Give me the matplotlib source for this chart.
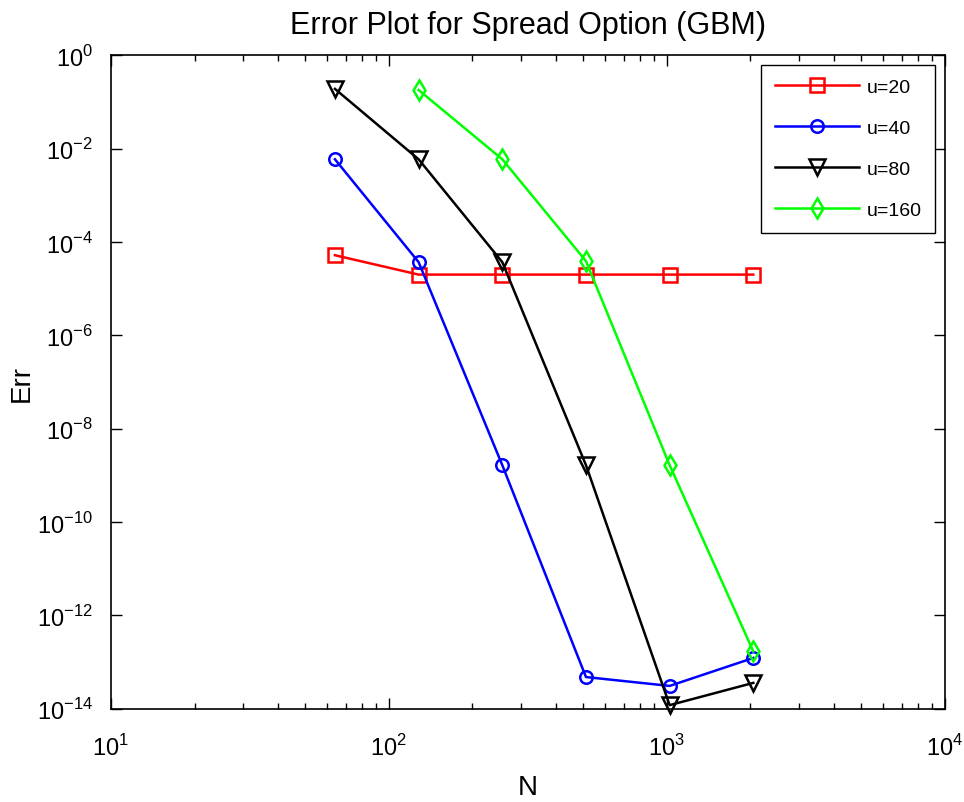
import numpy as np
import matplotlib
matplotlib.use("Agg")
import matplotlib.pyplot as plt
from matplotlib.ticker import FixedLocator, LogLocator, NullLocator, NullFormatter

plt.rcParams['font.family'] = ['Liberation Sans', 'DejaVu Sans']
plt.rcParams['mathtext.fontset'] = 'custom'
plt.rcParams['mathtext.rm'] = 'Liberation Sans'

# grid sizes
N = [64, 128, 256, 512, 1024, 2048]

# errors
err_u20 = [5.2e-5, 2.0e-5, 2.0e-5, 2.0e-5, 2.0e-5, 2.0e-5]
err_u40 = [5.9e-3, 3.7e-5, 1.66e-9, 4.8e-14, 3.1e-14, 1.23e-13]
err_u80 = [0.19, 5.9e-3, 3.7e-5, 1.66e-9, 1.2e-14, 3.6e-14]
N_u160 = [128, 256, 512, 1024, 2048]
err_u160 = [0.18, 5.9e-3, 3.9e-5, 1.66e-9, 1.7e-13]

x_ticks = [1e1, 1e2, 1e3, 1e4]
y_ticks = [1e0, 1e-2, 1e-4, 1e-6, 1e-8, 1e-10, 1e-12, 1e-14]

fig = plt.figure(figsize=(9.64, 8.03), dpi=100)
ax = fig.add_axes([0.115, 0.116, 0.865, 0.814])

ax.loglog(N, err_u20, color='#ff0000', marker='s', mfc='none', mec='#ff0000',
          ms=10, mew=1.8, lw=1.8, label='u=20')
ax.loglog(N, err_u40, color='#0000ff', marker='o', mfc='none', mec='#0000ff',
          ms=9, mew=1.8, lw=1.8, label='u=40')
ax.loglog(N, err_u80, color='#000000', marker='v', mfc='none', mec='#000000',
          ms=11, mew=1.8, lw=1.8, label='u=80', clip_on=False)
ax.loglog(N_u160, err_u160, color='#00ff00', marker='d', mfc='none', mec='#00ff00',
          ms=10, mew=1.8, lw=1.8, label='u=160')

ax.set_xlim(1e1, 1e4)
ax.set_ylim(1e-14, 1e0)

ax.xaxis.set_major_locator(FixedLocator(x_ticks))
ax.xaxis.set_minor_locator(LogLocator(base=10, subs=np.arange(2, 10)))
ax.xaxis.set_minor_formatter(NullFormatter())
ax.yaxis.set_major_locator(FixedLocator(y_ticks))
ax.yaxis.set_minor_locator(NullLocator())

ax.set_xticklabels([r'$10^{%d}$' % int(np.log10(t)) for t in x_ticks])
ax.set_yticklabels([r'$10^{%d}$' % int(round(np.log10(t))) for t in y_ticks])

ax.tick_params(which='both', direction='in', top=True, right=True, labelsize=17)
ax.tick_params(which='major', length=8, width=1)
ax.tick_params(which='minor', length=4, width=1)
ax.tick_params(axis='x', pad=18)
ax.tick_params(axis='y', pad=13)
for s in ax.spines.values():
    s.set_linewidth(1.2)

ax.set_title('Error Plot for Spread Option (GBM)', fontsize=22, pad=16)
ax.set_xlabel('N', fontsize=20)
ax.set_ylabel('Err', fontsize=20)
ax.xaxis.set_label_coords(0.5, -0.119)
ax.xaxis.label.set_va('center')
ax.yaxis.set_label_coords(-0.107, 0.5)
ax.yaxis.label.set_va('center')

leg = ax.legend(loc='upper right', fontsize=14, handlelength=4.3, handletextpad=0.4,
                fancybox=False, edgecolor='black', framealpha=1, borderpad=0.7,
                labelspacing=1.2, borderaxespad=0.5)
leg.get_frame().set_linewidth(1.0)

fig.savefig('out.png', dpi=100)
